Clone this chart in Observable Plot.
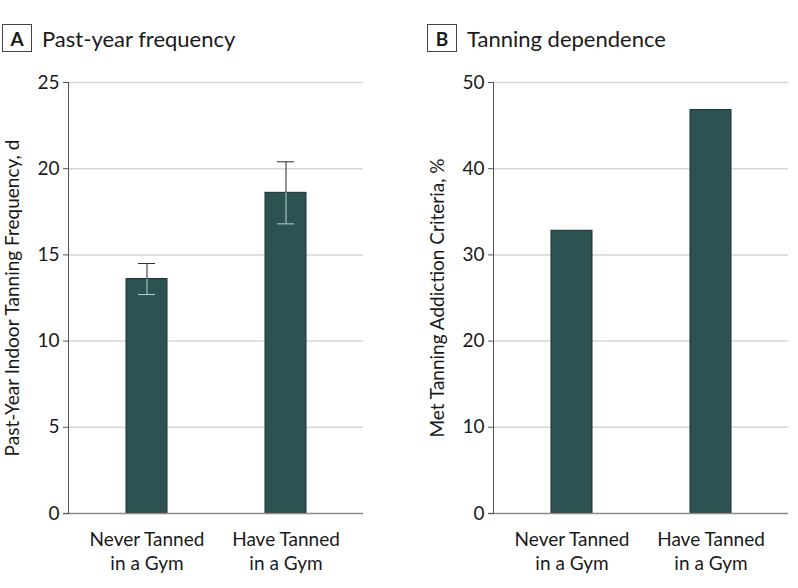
<!DOCTYPE html>
<html><head><meta charset="utf-8">
<script src="https://cdn.jsdelivr.net/npm/d3@7"></script>
<script src="https://cdn.jsdelivr.net/npm/@observablehq/plot@0.6"></script>
<style>
body{margin:0;background:#fff;font-family:Lato,"Open Sans",sans-serif;color:#1a1a1a}
#root{position:relative;width:798px;height:588px;overflow:hidden}
.hdr{position:absolute;top:24px;display:flex;align-items:center;font-size:22px}
.box{width:28px;height:26px;border:1.5px solid #444;display:flex;align-items:center;justify-content:center;font-weight:bold;font-size:19px;margin-right:10px}
.panel{position:absolute;top:60px}
</style></head>
<body><div id="root">
<div class="hdr" style="left:2px"><div class="box">A</div><span>Past-year frequency</span></div>
<div class="hdr" style="left:427px"><div class="box">B</div><span>Tanning dependence</span></div>
<div class="panel" id="pa" style="left:0"></div>
<div class="panel" id="pb" style="left:399px"></div>
</div>
<script>
const groups = ["Never Tanned\nin a Gym", "Have Tanned\nin a Gym"];
const freqMean = [13.6, 18.6];
const freqLow = [12.7, 16.8];
const freqHigh = [14.5, 20.4];
const dependencePct = [32.8, 46.8];
const freqTicks = [0, 5, 10, 15, 20, 25];
const pctTicks = [0, 10, 20, 30, 40, 50];
const freqLabel = "Past-Year Indoor Tanning Frequency, d";
const pctLabel = "Met Tanning Addiction Criteria, %";

const barFill = "#2c5251", barStroke = "#1c2e2e";

function panel({data, ticks, label, marginLeft, marginRight, errors}) {
  const marks = [
    Plot.gridY(ticks.filter(t => t > 0), {stroke: "#d6d6d6", strokeOpacity: 1, strokeWidth: 1.5}),
    Plot.barY(data, {x: "g", y: "v", fill: barFill, stroke: barStroke, strokeWidth: 1}),
  ];
  if (errors) {
    marks.push(
      Plot.ruleX(data, {x: "g", y1: "v", y2: "hi", stroke: "#2a2a2a", strokeWidth: 1}),
      Plot.ruleX(data, {x: "g", y1: "lo", y2: "v", stroke: "#b8d2d0", strokeWidth: 1}),
      Plot.tickY(data, {x: "g", y: "hi", stroke: "#2a2a2a", strokeWidth: 1, insetLeft: 12, insetRight: 12}),
      Plot.tickY(data, {x: "g", y: "lo", stroke: "#b8d2d0", strokeWidth: 1, insetLeft: 12, insetRight: 12})
    );
  }
  marks.push(
    Plot.ruleY([0], {stroke: "#8a8a8a", strokeWidth: 1.5, insetLeft: -5}),
    Plot.frame({anchor: "left", stroke: "#555", strokeWidth: 1}),
    Plot.axisY({ticks, tickSize: 5, tickPadding: 4, stroke: "#555", fontSize: 19,
      label, labelAnchor: "center", labelOffset: 63, labelArrow: "none"}),
    Plot.axisX({tickSize: 0, tickPadding: 15, fontSize: 19, lineHeight: 1.27, label: null})
  );
  return Plot.plot({
    width: 399, height: 528,
    marginLeft, marginRight, marginTop: 22, marginBottom: 75,
    style: {fontFamily: "Lato, 'Open Sans', sans-serif", fontSize: "20px", color: "#1a1a1a", background: "#fff"},
    x: {domain: groups, paddingInner: 0.706, paddingOuter: 0.41},
    y: {domain: [ticks[0], ticks[ticks.length - 1]]},
    marks
  });
}

const dataA = groups.map((g, i) => ({g, v: freqMean[i], lo: freqLow[i], hi: freqHigh[i]}));
const dataB = groups.map((g, i) => ({g, v: dependencePct[i]}));

document.getElementById("pa").append(panel({data: dataA, ticks: freqTicks, label: freqLabel, marginLeft: 68, marginRight: 36, errors: true}));
document.getElementById("pb").append(panel({data: dataB, ticks: pctTicks, label: pctLabel, marginLeft: 94, marginRight: 10, errors: false}));
</script>
</body></html>
